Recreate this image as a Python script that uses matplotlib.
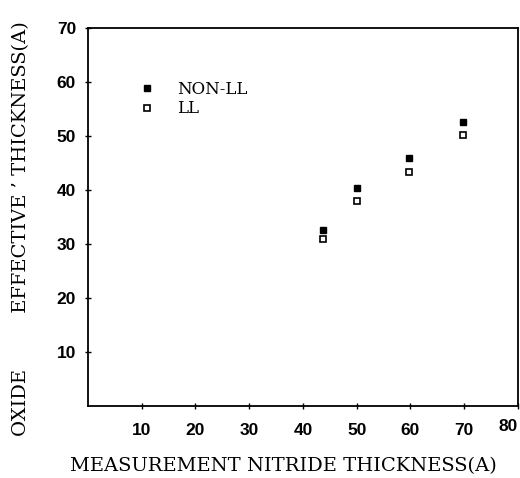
import matplotlib.pyplot as plt
from matplotlib.transforms import ScaledTranslation

nitride = [43.8, 50, 59.7, 69.8]
non_ll = [32.6, 40.4, 45.9, 52.6]
ll = [30.9, 38.0, 43.3, 50.2]
xticks = [10, 20, 30, 40, 50, 60, 70, 80]
yticks = [10, 20, 30, 40, 50, 60, 70]

plt.rcParams['font.family'] = ['DejaVu Serif']

fig = plt.figure(figsize=(5.2, 4.78), dpi=100)
ax = fig.add_axes([0.169, 0.151, 0.827, 0.790])

ax.plot(nitride, non_ll, 's', color='black', markersize=4.5, label="NON-LL")
ax.plot(nitride, ll, 's', markerfacecolor='white', markeredgecolor='black',
        markeredgewidth=1.2, markersize=4.5, label="LL")

ax.set_xlim(0, 80)
ax.set_ylim(0, 70)
ax.set_xticks(xticks)
ax.set_yticks(yticks)
ax.tick_params(direction='inout', length=5, width=1)
ax.tick_params(axis='x', pad=10)
ax.tick_params(axis='y', pad=6)
for lab in ax.get_xticklabels() + ax.get_yticklabels():
    lab.set_fontweight('bold')
    lab.set_fontfamily('Liberation Sans')
    lab.set_fontsize(12.5)
last = ax.get_xticklabels()[-1]
last.set_horizontalalignment('right')
last.set_transform(last.get_transform() + ScaledTranslation(0, 0.04, fig.dpi_scale_trans))
for s in ax.spines.values():
    s.set_linewidth(1.3)

ax.set_xlabel("MEASUREMENT NITRIDE THICKNESS(A)", fontsize=14)
ax.xaxis.set_label_coords(0.455, -0.135)
ax.set_ylabel("OXIDE         EFFECTIVE ’ THICKNESS(A)", fontsize=14)
ax.yaxis.set_label_coords(-0.135, 0.47)

ax.legend(loc='upper left', bbox_to_anchor=(0.063, 0.9), frameon=False,
          fontsize=12, handletextpad=0.8, labelspacing=0.15, markerscale=0.9)

fig.savefig("out.png", dpi=100)
